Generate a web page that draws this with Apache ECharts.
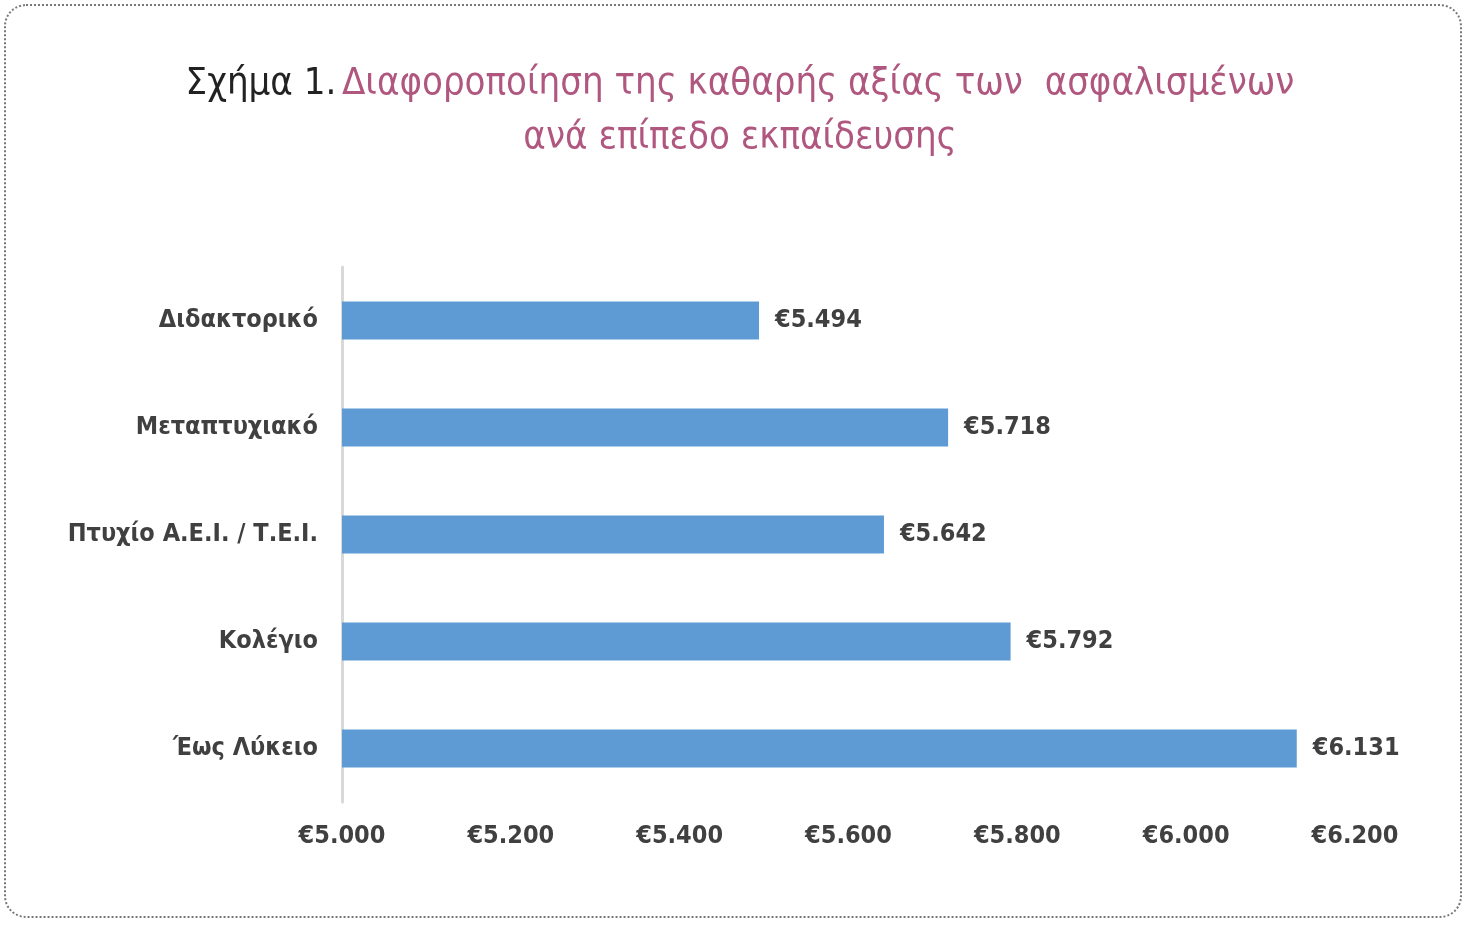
<!DOCTYPE html>
<html>
<head>
<meta charset="utf-8">
<script src="https://cdn.jsdelivr.net/npm/echarts@6/dist/echarts.min.js"></script>
<style>
html,body{margin:0;padding:0;background:#fff;}
#frame{position:absolute;left:4px;top:4px;width:1458px;height:914px;border:2px dotted #777;border-radius:22px;box-sizing:border-box;}
#chart{position:absolute;left:0;top:0;width:1466px;height:925px;}
</style>
</head>
<body>
<div id="frame"></div>
<div id="chart"></div>
<script>
// categories top to bottom
var categories = ['Διδακτορικό', 'Μεταπτυχιακό', 'Πτυχίο Α.Ε.Ι. / Τ.Ε.Ι.', 'Κολέγιο', 'Έως Λύκειο'];
var values = [5494, 5718, 5642, 5792, 6131];
var axisMin = 5000, axisMax = 6200, axisStep = 200;

var FONT = '"Liberation Sans Narrow", "DejaVu Sans Condensed", sans-serif';
function euro(v){
	var s = String(Math.round(v));
	return '€' + s.replace(/\B(?=(\d{3})+(?!\d))/g, '.');
}

var chart = echarts.init(document.getElementById('chart'));
var option = {
	animation:false,
	title:{
		left:735, top:52, textAlign:'center',
		text:'{k|Σχήμα 1.} {p|Διαφοροποίηση της καθαρής αξίας των  ασφαλισμένων}\n{p|ανά επίπεδο εκπαίδευσης}',
		textStyle:{
			fontFamily:FONT, lineHeight:54, align:'center',
			rich:{
				k:{color:'#222', fontSize:38, fontFamily:FONT, fontWeight:'normal', lineHeight:54},
				p:{color:'#b0577f', fontSize:38, fontFamily:FONT, fontWeight:'normal', lineHeight:54}
			}
		}
	},
	grid:{left:342, right:111, top:267, bottom:123, containLabel:false},
	xAxis:{
		type:'value', min:axisMin, max:axisMax, interval:axisStep,
		splitLine:{show:false}, axisLine:{show:false}, axisTick:{show:false},
		axisLabel:{formatter:euro, color:'#404040', fontSize:25, fontFamily:FONT, fontWeight:'bold', margin:22}
	},
	yAxis:{
		type:'category', data:categories, inverse:true,
		axisLine:{show:true, lineStyle:{color:'#d9d9d9', width:3}},
		axisTick:{show:false},
		axisLabel:{color:'#404040', fontSize:25, fontFamily:FONT, fontWeight:'bold', margin:24}
	},
	series:[{
		type:'bar', data:values, barWidth:38,
		itemStyle:{color:'#5e9bd5'},
		label:{show:true, position:'right', distance:16, formatter:function(p){return euro(p.value);},
			color:'#404040', fontSize:25, fontFamily:FONT, fontWeight:'bold'}
	}]
};
chart.setOption(option);
</script>
</body>
</html>
